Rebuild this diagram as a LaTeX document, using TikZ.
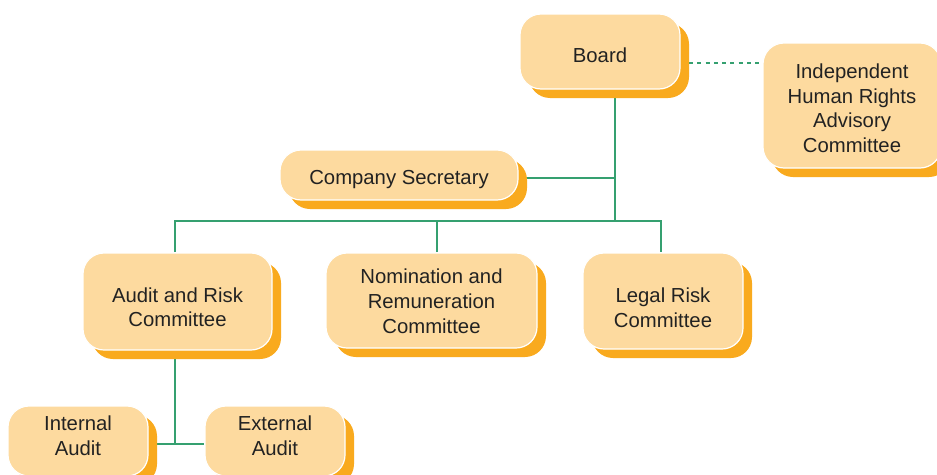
\documentclass[tikz,border=0pt]{standalone}
\usepackage{fontspec}
\setmainfont{Liberation Sans}
\usetikzlibrary{shadows,backgrounds,calc}
\definecolor{boxfill}{HTML}{FDDA9F}
\definecolor{boxshadow}{HTML}{F9AA1E}
\definecolor{linegreen}{HTML}{35A070}
\definecolor{txt}{HTML}{222222}
\newcommand\boxtext[2]{\raisebox{#1}[\height][\depth]{\begin{tabular}{@{}c@{}}#2\end{tabular}}}
\begin{document}
\begin{tikzpicture}[x=1pt,y=-1pt,
  box/.style={rounded corners=21pt, fill=boxfill, draw=white, line width=1.2pt,
    text=txt, font=\fontsize{20.3}{24.7}\selectfont, inner sep=0pt,
    general shadow={fill=boxshadow, draw=none, shadow xshift=9pt, shadow yshift=-9pt}},
  link/.style={draw=linegreen, line width=2.3pt},
  dotlink/.style={draw=linegreen, line width=1.8pt, dash pattern=on 4pt off 4.3pt}]
\useasboundingbox (0,0) rectangle (937,474);
\node[box, minimum width=160pt, minimum height=75pt] (board) at (600,51.5) {\boxtext{-6pt}{Board}};
\node[box, minimum width=178pt, minimum height=125pt] (adv) at (852,105.5) {\boxtext{-5pt}{Independent\\Human Rights\\Advisory\\Committee}};
\node[box, minimum width=238pt, minimum height=50pt] (cs) at (399,175) {\boxtext{-4.5pt}{Company Secretary}};
\node[box, minimum width=189pt, minimum height=97pt] (arc) at (177.5,301.5) {\boxtext{-8pt}{Audit and Risk\\Committee}};
\node[box, minimum width=211pt, minimum height=95pt] (nrc) at (431.5,300.5) {\boxtext{-3pt}{Nomination and\\Remuneration\\Committee}};
\node[box, minimum width=160pt, minimum height=96pt] (lrc) at (663,301) {\boxtext{-9pt}{Legal Risk\\Committee}};
\node[box, minimum width=140pt, minimum height=70pt] (ia) at (78,441) {\boxtext{3pt}{Internal\\Audit}};
\node[box, minimum width=140pt, minimum height=70pt] (ea) at (275,441) {\boxtext{3pt}{External\\Audit}};
\begin{pgfonlayer}{background}
  \fill[white] (0,0) rectangle (937,474);
  \coordinate (bt) at ([xshift=15pt]board.south);
  \coordinate (t1) at (615,221);
  \coordinate (cse) at ([yshift=-3pt]cs.east);
  \coordinate (arcn) at ([xshift=-2.5pt]arc.north);
  \coordinate (arcs) at ([xshift=-2.5pt]arc.south);
  \coordinate (nrcn) at ([xshift=5.5pt]nrc.north);
  \coordinate (lrcn) at ([xshift=-2pt]lrc.north);
  \coordinate (iae) at ([yshift=-3pt]ia.east);
  \coordinate (bd) at ([yshift=-11.5pt]board.east);
  \draw[link] (bt) -- (bt |- t1);
  \draw[link] (cse) -- (cse -| bt);
  \draw[link] (arcn) |- (lrcn |- t1) -- (lrcn);
  \draw[link] (nrcn) -- (nrcn |- t1);
  \draw[link] (arcs) -- (arcs |- iae);
  \draw[link] (iae) -- (iae -| ea.west);
  \draw[dotlink] (bd) -- (bd -| adv.west);
\end{pgfonlayer}
\end{tikzpicture}
\end{document}
